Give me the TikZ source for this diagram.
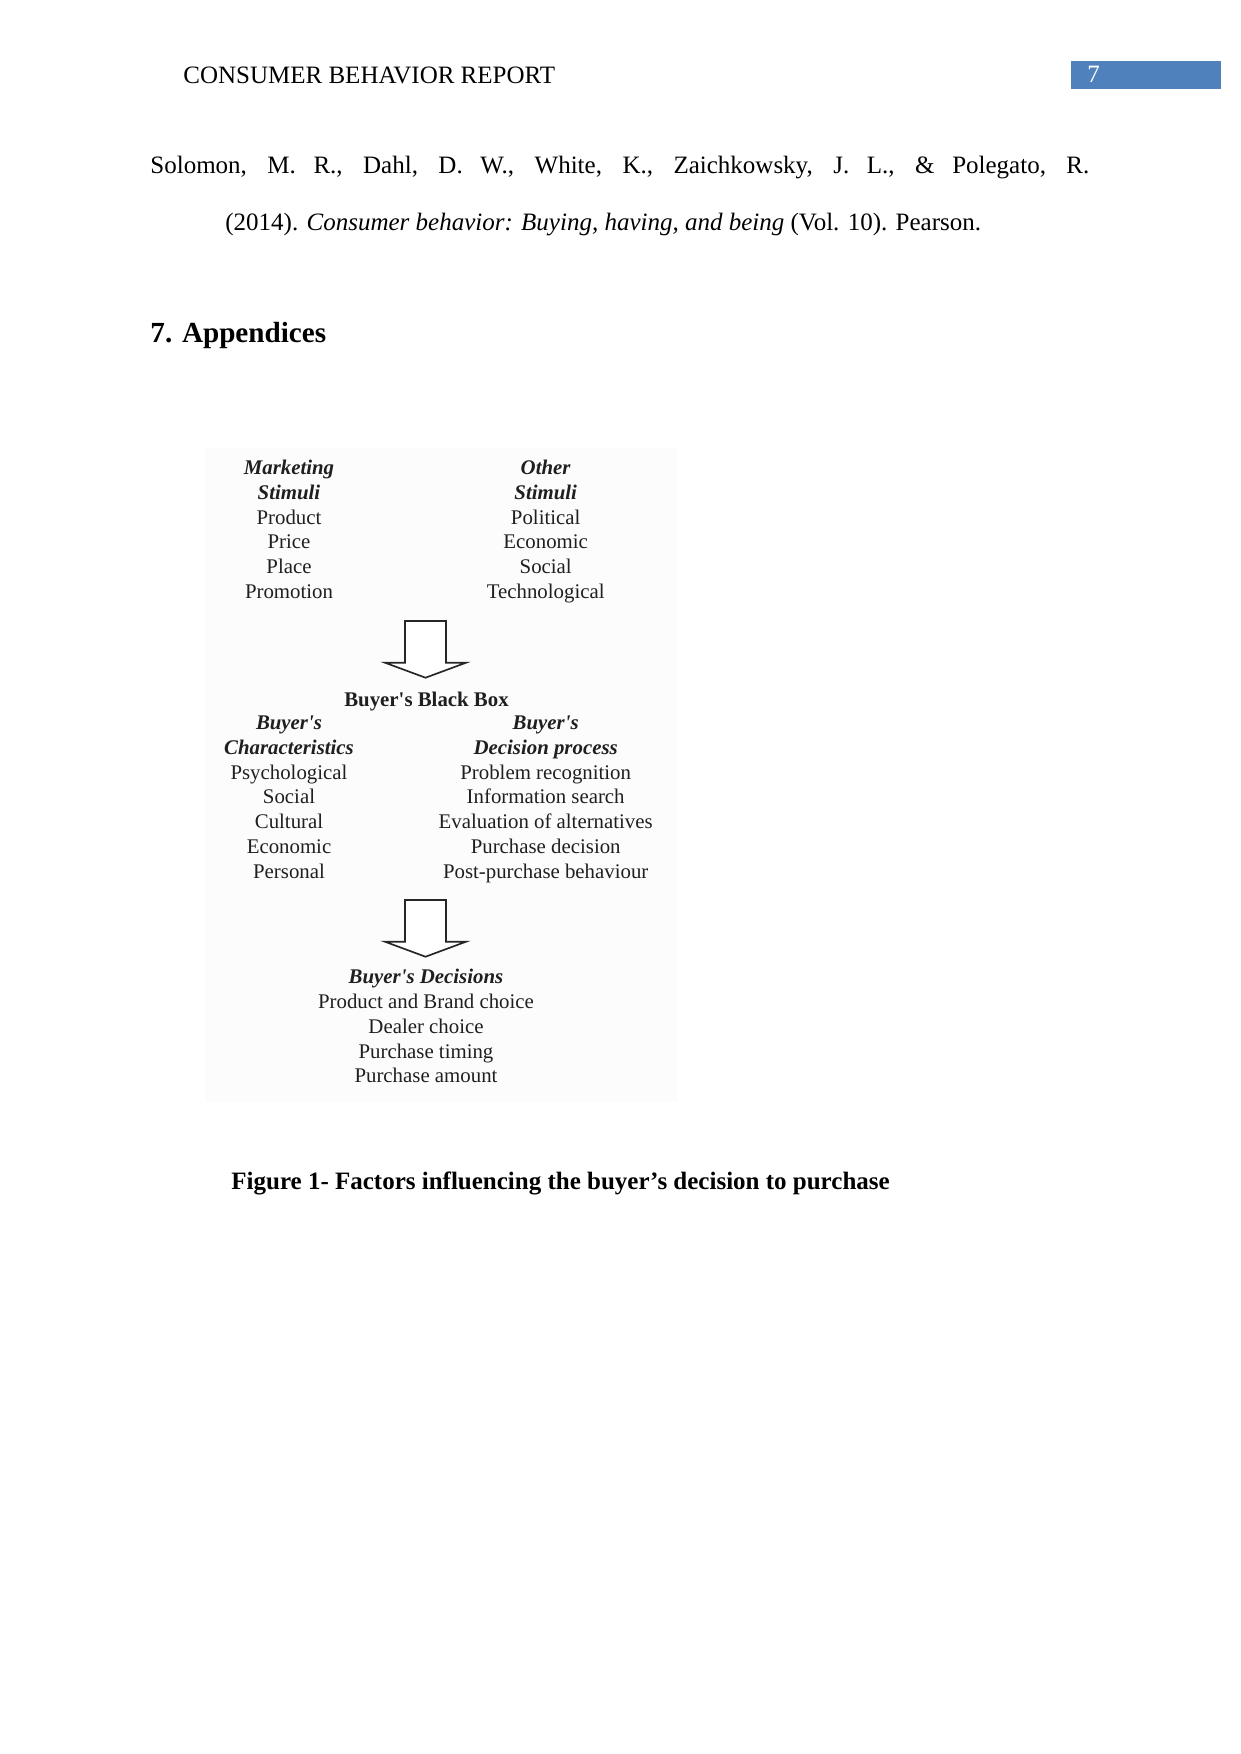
\documentclass[tikz,border=0pt]{standalone}
\usepackage{fontspec}
\setmainfont{Liberation Serif}
\definecolor{hdrblue}{HTML}{4F81BD}
\begin{document}
\begin{tikzpicture}[x=0.48pt, y=-0.48pt,
  every node/.style={inner sep=0pt, font=\fontsize{12}{14}\selectfont},
  col/.style={align=center, anchor=north, text=black!88, font=\fontsize{10}{11.86}\selectfont},
  blockarrow/.style={draw=black!85, line width=0.8pt, line join=miter, fill=white}]
  \useasboundingbox (0,0) rectangle (1241,1754);
  \fill[white] (0,0) rectangle (1241,1754);

  % running head
  \node[anchor=base west] (runhead) at (183,83.3) {CONSUMER BEHAVIOR REPORT};
  \fill[hdrblue] (1071,61) rectangle (1221,89);
  \node[anchor=base west, text=white] (pagenum) at (1087,82.7) {7};

  % reference entry
  \node[anchor=base west] (ref1) at (150,173.5)
    {\makebox[450.7pt][s]{Solomon, M. R., Dahl, D. W., White, K., Zaichkowsky, J. L., \& Polegato, R.}};
  \node[anchor=base west] (ref2) at (225,230.5)
    {(2014). \textit{Consumer behavior: Buying, having, and being} (Vol. 10). Pearson.};

  \node[anchor=base west, font=\fontsize{14}{17}\selectfont\bfseries] (sec) at (150,342.3) {7. Appendices};

  % scanned figure
  \fill[black!1.2] (205,448) rectangle (677,1102);
  \node[col] (mktstim) at (289,459.8)
    {\textbf{\textit{Marketing}}\\\textbf{\textit{Stimuli}}\\Product\\Price\\Place\\Promotion};
  \node[col] (othstim) at (545.7,459.8)
    {\textbf{\textit{Other}}\\\textbf{\textit{Stimuli}}\\Political\\Economic\\Social\\Technological};
  \coordinate (arr1) at (425.5,621);
  \node[anchor=base, text=black!88, font=\fontsize{10}{12}\selectfont\bfseries] (blackbox) at (426.5,706.3)
    {Buyer\textquotesingle s Black Box};
  \node[col] (buychar) at (289,715.7)
    {\textbf{\textit{Buyer\textquotesingle s}}\\\textbf{\textit{Characteristics}}\\Psychological\\Social\\Cultural\\Economic\\Personal};
  \node[col] (buyproc) at (545.7,715.7)
    {\textbf{\textit{Buyer\textquotesingle s}}\\\textbf{\textit{Decision process}}\\Problem recognition\\Information search\\Evaluation of alternatives\\Purchase decision\\Post-purchase behaviour};
  \coordinate (arr2) at (425.5,900);
  \node[col] (buydec) at (426,969)
    {\textbf{\textit{Buyer\textquotesingle s Decisions}}\\Product and Brand choice\\Dealer choice\\Purchase timing\\Purchase amount};

  \foreach \a in {arr1,arr2}
    \draw[blockarrow] (\a) ++(-20.5,0) -- ++(41,0) -- ++(0,41.7) -- ++(20,0)
      -- ++(-40.5,15) -- ++(-40.5,-15) -- ++(20,0) -- cycle;

  \node[anchor=base west, font=\fontsize{12}{14}\selectfont\bfseries] (caption) at (231,1189)
    {Figure 1- Factors influencing the buyer’s decision to purchase};
\end{tikzpicture}
\end{document}
